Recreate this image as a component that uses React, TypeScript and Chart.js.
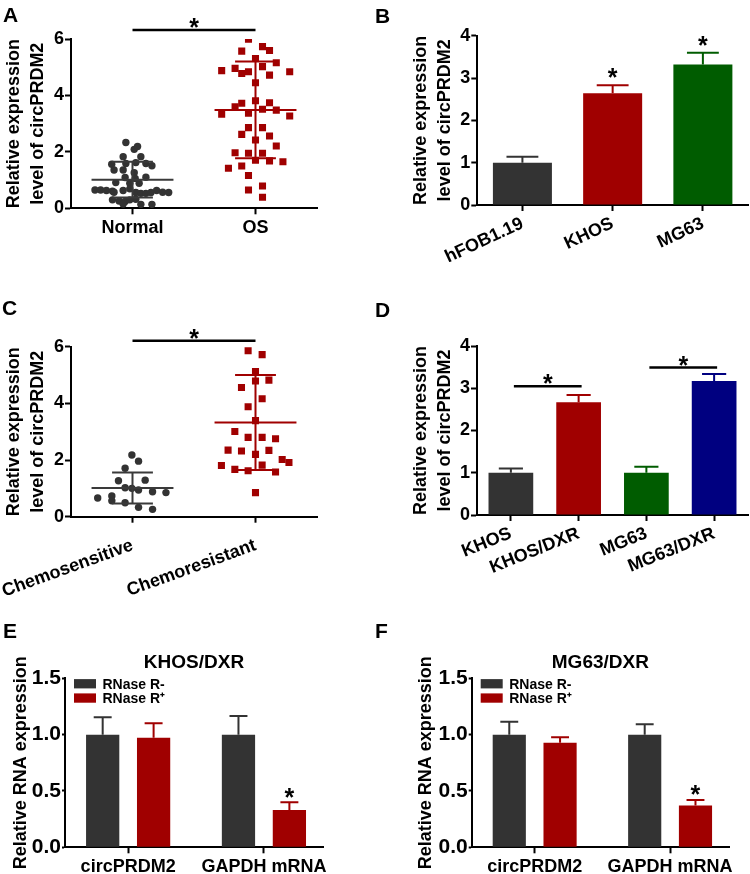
import React, { useEffect, useRef } from 'react';
import { Chart, registerables } from 'chart.js';

Chart.register(...registerables);

const FONT = "'Liberation Sans', Arial, Helvetica, sans-serif";
Chart.defaults.font.family = FONT;
Chart.defaults.color = '#000';

const DARK = '#333333';
const RED = '#a00000';
const GREEN = '#005c00';
const NAVY = '#000080';

// ---------- Panel A ----------
const aGroups = ['Normal', 'OS'];
const aNormalX = [0.946, 1.014, 1.041, 0.924, 1.068, 0.831, 0.946, 1.027, 1.109, 1.158, 0.85, 0.924, 1.014, 0.94, 1.022, 1.109, 0.864, 0.978, 1.054, 0.695, 0.741, 0.788, 0.837, 0.924, 0.978, 1.027, 1.068, 1.109, 1.15, 1.196, 1.245, 1.294, 0.85, 0.837, 0.891, 0.94, 0.978, 1.027, 0.924, 1.068, 1.158];
const aNormalY = [2.33, 2.09, 2.19, 1.83, 1.83, 1.56, 1.59, 1.62, 1.59, 1.51, 1.36, 1.36, 1.26, 1.09, 1.06, 1.10, 0.91, 0.89, 0.89, 0.65, 0.65, 0.63, 0.61, 0.63, 0.69, 0.56, 0.53, 0.53, 0.56, 0.63, 0.57, 0.56, 0.57, 0.30, 0.26, 0.24, 0.30, 0.32, 0.15, 0.14, 0.14];
const aOsX = [1.943, 1.888, 2.057, 2.114, 2.0, 2.169, 1.725, 1.834, 1.888, 1.943, 2.057, 2.114, 2.278, 2.0, 2.0, 1.888, 2.114, 1.834, 1.725, 1.943, 2.057, 2.169, 2.278, 1.943, 2.057, 1.888, 2.114, 2.0, 2.169, 1.834, 1.943, 2.057, 2.0, 2.114, 2.223, 1.78, 1.888, 1.943, 1.943, 2.057, 2.057];
const aOsY = [5.99, 5.57, 5.73, 5.59, 5.31, 5.16, 4.88, 4.96, 4.78, 4.84, 5.02, 4.72, 4.84, 4.45, 3.81, 3.72, 3.74, 3.60, 3.33, 3.37, 3.51, 3.48, 3.27, 2.86, 2.86, 2.62, 2.56, 2.42, 2.21, 1.97, 1.95, 1.95, 1.70, 1.68, 1.65, 1.42, 1.50, 1.16, 0.65, 0.79, 0.39];
const aMeans = [1.015, 3.485];
const aSDs = [0.635, 1.715];
const aSigY = 6.32;

// ---------- Panel B ----------
const bCats = ['hFOB1.19', 'KHOS', 'MG63'];
const bVals = [1.0, 2.64, 3.32];
const bErrs = [0.14, 0.19, 0.28];
const bStars = [1, 2];

// ---------- Panel C ----------
const cGroups = ['Chemosensitive', 'Chemoresistant'];
const cSensX = [0.995, 1.049, 0.94, 0.886, 1.103, 0.94, 0.995, 1.049, 1.163, 1.272, 0.832, 0.717, 0.832, 0.94, 1.049, 1.163];
const cSensY = [2.18, 1.96, 1.71, 1.27, 1.29, 1.02, 1.0, 0.94, 0.88, 0.85, 0.73, 0.66, 0.56, 0.49, 0.33, 0.26];
const cResX = [1.94, 2.054, 2.0, 2.0, 2.109, 1.886, 2.054, 1.94, 2.0, 1.832, 1.94, 2.054, 2.163, 1.777, 1.886, 2.109, 2.0, 2.217, 2.272, 1.723, 2.054, 1.832, 1.94, 2.163, 2.0];
const cResY = [5.86, 5.72, 5.12, 4.79, 4.82, 4.56, 4.16, 3.88, 3.39, 3.01, 2.8, 2.8, 2.75, 2.35, 2.32, 2.34, 2.2, 2.02, 1.91, 1.81, 1.82, 1.67, 1.62, 1.58, 0.85];
const cMeans = [1.015, 3.325];
const cSDs = [0.545, 1.675];
const cSigY = 6.21;

// ---------- Panel D ----------
const dCats = ['KHOS', 'KHOS/DXR', 'MG63', 'MG63/DXR'];
const dVals = [1.0, 2.67, 1.0, 3.17];
const dErrs = [0.1, 0.17, 0.14, 0.17];
const dPairs = [[0, 1], [2, 3]];
const dPairY = [3.05, 3.49];

// ---------- Panel E ----------
const eTitle = 'KHOS/DXR';
const eCats = ['circPRDM2', 'GAPDH mRNA'];
const eMinus = [1.0, 1.0];
const eMinusErr = [0.154, 0.166];
const ePlus = [0.973, 0.331];
const ePlusErr = [0.127, 0.069];

// ---------- Panel F ----------
const fTitle = 'MG63/DXR';
const fCats = ['circPRDM2', 'GAPDH mRNA'];
const fMinus = [1.0, 1.0];
const fMinusErr = [0.115, 0.092];
const fPlus = [0.929, 0.37];
const fPlusErr = [0.047, 0.05];

const seriesLabels = ['RNase R-', 'RNase R\u207A'];
const exprTitle = ['Relative expression', 'level of circPRDM2'];
const rnaTitle = 'Relative RNA expression';

// ---------- helpers ----------
const TITLE_FONT = { family: FONT, size: 18, weight: 'bold' as const, lineHeight: 1.28 };
const BORDER = { display: true, color: '#000', width: 2 };
const STAR_FONT = `bold 25px ${FONT}`;

function grid(tickLength: number) {
  return { drawOnChartArea: false, drawTicks: true, tickLength, tickWidth: 2, tickColor: '#000', color: '#000', offset: false };
}

function tickFont(size: number) {
  return { family: FONT, size, weight: 'bold' as const };
}

function yAxis(max: number, step: number, width: number, title: string | string[], decimals: number, fontSize: number, titlePad: number, tickLength: number) {
  return {
    type: 'linear', min: 0, max,
    afterFit: (s: any) => { s.width = width; },
    ticks: { stepSize: step, color: '#000', font: tickFont(fontSize), padding: 1, callback: (v: number) => Number(v).toFixed(decimals) },
    grid: grid(tickLength), border: BORDER,
    title: { display: true, text: title, color: '#000', font: TITLE_FONT, padding: { top: titlePad, bottom: 0 } },
  };
}

function fixX(height: number) {
  return (s: any) => { s.height = height; s.paddingLeft = 0; s.paddingRight = 0; };
}

function xLinear(min: number, max: number, labels: string[], height: number, rot: number, pad: number) {
  return {
    type: 'linear', min, max, offset: false,
    afterBuildTicks: (s: any) => { s.ticks = labels.map((_, i) => ({ value: i + 1 })); },
    afterFit: fixX(height),
    ticks: { autoSkip: false, minRotation: rot, maxRotation: rot, color: '#000', font: tickFont(18), padding: pad, callback: (v: number) => labels[Math.round(v) - 1] },
    grid: grid(6), border: BORDER,
  };
}

function xCategory(height: number, rot: number) {
  return {
    type: 'category', offset: true,
    afterFit: fixX(height),
    ticks: { autoSkip: false, minRotation: rot, maxRotation: rot, color: '#000', font: tickFont(18), padding: 2 },
    grid: grid(6), border: BORDER,
  };
}

function centerText(ctx: CanvasRenderingContext2D, text: string, x: number, cy: number, font: string, color = '#000') {
  ctx.font = font;
  ctx.fillStyle = color;
  ctx.textAlign = 'center';
  ctx.textBaseline = 'alphabetic';
  const m = ctx.measureText(text);
  ctx.fillText(text, x, cy + (m.actualBoundingBoxAscent - m.actualBoundingBoxDescent) / 2);
}

function bracket(ctx: CanvasRenderingContext2D, x1: number, x2: number, y: number, gap: number) {
  ctx.strokeStyle = '#000';
  ctx.lineWidth = 2.5;
  ctx.beginPath();
  ctx.moveTo(x1, y);
  ctx.lineTo(x2, y);
  ctx.stroke();
  centerText(ctx, '*', (x1 + x2) / 2, y - gap, STAR_FONT);
}

function sdBars(chart: any, ctx: CanvasRenderingContext2D, xv: number, mean: number, sd: number, color: string) {
  const xs = chart.scales.x, ys = chart.scales.y;
  const xc = xs.getPixelForValue(xv);
  const ym = ys.getPixelForValue(mean), yt = ys.getPixelForValue(mean + sd), yb = ys.getPixelForValue(mean - sd);
  ctx.strokeStyle = color;
  ctx.lineWidth = 2;
  ctx.beginPath();
  ctx.moveTo(xs.getPixelForValue(xv - 0.333), ym);
  ctx.lineTo(xs.getPixelForValue(xv + 0.333), ym);
  ctx.moveTo(xc, yt);
  ctx.lineTo(xc, yb);
  for (const yy of [yt, yb]) {
    ctx.moveTo(xs.getPixelForValue(xv - 0.166), yy);
    ctx.lineTo(xs.getPixelForValue(xv + 0.166), yy);
  }
  ctx.stroke();
}

function barErrors(chart: any, ctx: CanvasRenderingContext2D, ds: number, vals: number[], errs: number[], colors: string | string[]) {
  const meta = chart.getDatasetMeta(ds);
  const ys = chart.scales.y;
  const tops: { x: number; y: number }[] = [];
  meta.data.forEach((el: any, i: number) => {
    const c = Array.isArray(colors) ? colors[i] : colors;
    const x = el.x, w = el.width;
    const y0 = ys.getPixelForValue(vals[i]);
    const y1 = ys.getPixelForValue(vals[i] + errs[i]);
    ctx.strokeStyle = c;
    ctx.lineWidth = 2;
    ctx.beginPath();
    ctx.moveTo(x, y0);
    ctx.lineTo(x, y1);
    ctx.moveTo(x - w * 0.27, y1);
    ctx.lineTo(x + w * 0.27, y1);
    ctx.stroke();
    tops.push({ x, y: y1 });
  });
  return tops;
}

function overlay(draw: (chart: any, ctx: CanvasRenderingContext2D) => void) {
  return {
    id: 'overlay',
    afterDraw(chart: any) {
      const ctx = chart.ctx;
      ctx.save();
      draw(chart, ctx);
      ctx.restore();
    },
  };
}

const BASE = {
  responsive: false,
  animation: false,
  devicePixelRatio: 1,
  events: [] as string[],
  plugins: { legend: { display: false }, tooltip: { enabled: false }, title: { display: false } },
};

function pts(xs: number[], ys: number[]) {
  return xs.map((x, i) => ({ x, y: ys[i] }));
}

// ---------- configs ----------
function scatterConfig(groups: string[], g1x: number[], g1y: number[], g2x: number[], g2y: number[], means: number[], sds: number[], sigY: number, padTop: number, xHeight: number, rot: number, labelPad: number) {
  return {
    type: 'scatter',
    data: {
      datasets: [
        { label: groups[0], data: pts(g1x, g1y), pointStyle: 'circle', pointRadius: 3.7, pointBorderWidth: 0, backgroundColor: DARK, borderColor: DARK },
        { label: groups[1], data: pts(g2x, g2y), pointStyle: 'rect', pointRadius: 5, pointBorderWidth: 0, backgroundColor: RED, borderColor: RED },
      ],
    },
    options: {
      ...BASE,
      layout: { padding: { top: padTop, right: 26, left: 0, bottom: 0 } },
      scales: { x: xLinear(0.5, 2.5, groups, xHeight, rot, labelPad), y: yAxis(6, 2, 71, exprTitle, 0, 18, 3, 6) },
    },
    plugins: [overlay((chart, ctx) => {
      sdBars(chart, ctx, 1, means[0], sds[0], '#3a3a3a');
      sdBars(chart, ctx, 2, means[1], sds[1], RED);
      const xs = chart.scales.x, ys = chart.scales.y;
      bracket(ctx, xs.getPixelForValue(1), xs.getPixelForValue(2), ys.getPixelForValue(sigY), 7);
    })],
  };
}

function configA() {
  return scatterConfig(aGroups, aNormalX, aNormalY, aOsX, aOsY, aMeans, aSDs, aSigY, 39, 53.7, 0, 3);
}
function configC() {
  return scatterConfig(cGroups, cSensX, cSensY, cResX, cResY, cMeans, cSDs, cSigY, 76.7, 85.3, 20, 12);
}

function configB() {
  const colors = [DARK, RED, GREEN];
  return {
    type: 'bar',
    data: { labels: bCats, datasets: [{ label: 'circPRDM2', data: bVals, backgroundColor: colors, categoryPercentage: 1, barPercentage: 0.654 }] },
    options: {
      ...BASE,
      layout: { padding: { top: 35.7, right: 2, left: 0, bottom: 0 } },
      scales: { x: xCategory(57, 25), y: yAxis(4, 1, 67.3, exprTitle, 0, 18, 0, 6) },
    },
    plugins: [overlay((chart, ctx) => {
      const tops = barErrors(chart, ctx, 0, bVals, bErrs, colors);
      bStars.forEach((i) => centerText(ctx, '*', tops[i].x, tops[i].y - 12, STAR_FONT));
    })],
  };
}

function configD() {
  const colors = [DARK, RED, GREEN, NAVY];
  return {
    type: 'bar',
    data: { labels: dCats, datasets: [{ label: 'circPRDM2', data: dVals, backgroundColor: colors, categoryPercentage: 1, barPercentage: 0.66 }] },
    options: {
      ...BASE,
      layout: { padding: { top: 76, right: 2, left: 0, bottom: 0 } },
      scales: { x: xCategory(60, 22), y: yAxis(4, 1, 67, exprTitle, 0, 18, 0, 6) },
    },
    plugins: [overlay((chart, ctx) => {
      barErrors(chart, ctx, 0, dVals, dErrs, colors);
      const xs = chart.scales.x, ys = chart.scales.y;
      dPairs.forEach((p, k) => bracket(ctx, xs.getPixelForValue(p[0]) + 3, xs.getPixelForValue(p[1]) + 3, ys.getPixelForValue(dPairY[k]), 7));
    })],
  };
}

function rnaseConfig(title: string, cats: string[], minus: number[], minusErr: number[], plus: number[], plusErr: number[], yWidth: number, padRight: number) {
  const ds = (label: string, vals: number[], color: string) => ({
    label, data: vals.map((v, i) => ({ x: i + 1, y: v })), backgroundColor: color,
    categoryPercentage: 0.75, barPercentage: 0.653,
  });
  return {
    type: 'bar',
    data: { datasets: [ds(seriesLabels[0], minus, DARK), ds(seriesLabels[1], plus, RED)] },
    options: {
      ...BASE,
      layout: { padding: { top: 38.3, right: padRight, left: 0, bottom: 0 } },
      scales: { x: xLinear(0.535, 2.435, cats, 26.7, 0, 3), y: yAxis(1.5, 0.5, yWidth, rnaTitle, 1, 21, 0, 3) },
    },
    plugins: [overlay((chart, ctx) => {
      const area = chart.chartArea;
      barErrors(chart, ctx, 0, minus, minusErr, DARK);
      const tops = barErrors(chart, ctx, 1, plus, plusErr, RED);
      centerText(ctx, '*', tops[1].x, tops[1].y - 9.5, STAR_FONT);
      centerText(ctx, title, (area.left + area.right) / 2, area.top - 16.8, `bold 19px ${FONT}`);
      chart.data.datasets.forEach((d: any, i: number) => {
        const bx = area.left + 9;
        const cy = area.top + 5.4 + i * 14.3;
        ctx.fillStyle = d.backgroundColor;
        ctx.fillRect(bx, cy - 4.6, 22, 9.3);
        ctx.fillStyle = '#000';
        ctx.font = `bold 14px ${FONT}`;
        ctx.textAlign = 'left';
        ctx.textBaseline = 'alphabetic';
        ctx.fillText(d.label, bx + 28.5, cy + 5);
      });
    })],
  };
}

function configE() {
  return rnaseConfig(eTitle, eCats, eMinus, eMinusErr, ePlus, ePlusErr, 55, 17);
}
function configF() {
  return rnaseConfig(fTitle, fCats, fMinus, fMinusErr, fPlus, fPlusErr, 56.7, 16);
}

// ---------- components ----------
function Panel({ left, top, width, height, make }: { left: number; top: number; width: number; height: number; make: () => any }) {
  const ref = useRef<HTMLCanvasElement>(null);
  useEffect(() => {
    const chart = new Chart(ref.current as HTMLCanvasElement, make());
    return () => chart.destroy();
  }, []);
  return <canvas ref={ref} width={width} height={height} style={{ position: 'absolute', left, top, width, height }} />;
}

function Letter({ text, left, top }: { text: string; left: number; top: number }) {
  return (
    <div style={{ position: 'absolute', left, top, fontFamily: FONT, fontWeight: 'bold', fontSize: 21, lineHeight: '21px', color: '#000' }}>{text}</div>
  );
}

export default function App() {
  return (
    <div style={{ position: 'absolute', left: 0, top: 0, width: 750, height: 874, overflow: 'hidden', background: '#fff' }}>
      <Panel left={0} top={0} width={343} height={262} make={configA} />
      <Panel left={410} top={0} width={340} height={262} make={configB} />
      <Panel left={0} top={270} width={343} height={332} make={configC} />
      <Panel left={410} top={270} width={340} height={305} make={configD} />
      <Panel left={10} top={640} width={330} height={234} make={configE} />
      <Panel left={415} top={640} width={330} height={234} make={configF} />
      <Letter text="A" left={3} top={4} />
      <Letter text="B" left={375} top={5} />
      <Letter text="C" left={2} top={297} />
      <Letter text="D" left={375} top={299} />
      <Letter text="E" left={3} top={620} />
      <Letter text="F" left={375} top={620} />
    </div>
  );
}
